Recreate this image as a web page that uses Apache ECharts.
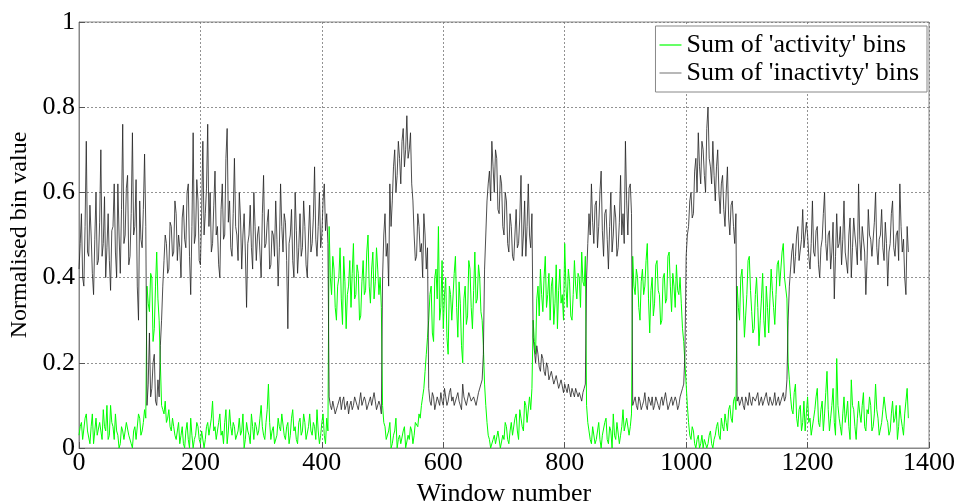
<!DOCTYPE html>
<html><head><meta charset="utf-8">
<script src="https://cdn.jsdelivr.net/npm/echarts@6/dist/echarts.min.js"></script>
<style>html,body{margin:0;padding:0;background:#fff}#c{width:962px;height:502px}</style>
</head><body><div id="c"></div>
<script>
// window step between sampled points
const windowStep = 2;
const xTicks = [0, 200, 400, 600, 800, 1000, 1200, 1400];
const yTicks = [0, 0.2, 0.4, 0.6, 0.8, 1];
const seriesNames = ["Sum of 'activity' bins", "Sum of 'inactivty' bins"];

const activity = [
0.03,0.05,0.06,0.02,0.02,0.07,0.08,0.04,0.04,0.01,0.05,0.08,0.01,0.04,0.07,0.03,0.03,0.06,0.06,0.02,
0.09,0.05,0.04,0.10,0.02,0.03,0.10,0.06,0.05,0.02,0.08,0.04,0.03,0.00,0.01,0.05,0.04,0.02,0.02,0.06,
0.06,0.03,0.03,0.01,0.00,0.04,0.05,0.02,0.02,0.08,0.07,0.03,0.04,0.06,0.09,0.07,
0.38,0.34,0.32,0.41,0.40,0.25,0.28,0.38,0.46,0.35,0.30,0.20,
0.10,0.09,0.08,0.11,0.06,0.07,0.09,0.05,0.04,0.07,0.05,0.03,0.02,0.04,0.06,0.01,0.03,0.05,0.01,0.00,
0.04,0.06,0.02,0.00,0.07,0.03,0.00,0.02,0.03,0.06,0.05,0.02,0.01,0.04,0.04,0.00,0.02,0.05,0.06,0.03,
0.03,0.07,0.11,0.04,0.05,0.02,0.02,0.06,0.08,0.03,0.04,0.01,0.06,0.09,0.01,0.04,0.09,0.05,0.03,0.06,
0.05,0.02,0.02,0.04,0.07,0.03,0.04,0.08,0.00,0.02,0.06,0.04,0.03,0.01,0.08,0.05,0.02,0.06,0.05,0.03,
0.04,0.07,0.10,0.05,0.03,0.02,0.06,0.09,0.15,0.06,0.02,0.04,0.05,0.01,0.01,0.03,0.07,0.05,0.04,0.08,
0.08,0.03,0.02,0.05,0.06,0.01,0.03,0.07,0.09,0.04,0.05,0.02,0.01,0.06,0.07,0.03,0.04,0.08,0.06,0.02,
0.02,0.05,0.08,0.04,0.03,0.06,0.05,0.02,0.09,0.04,0.01,0.03,0.06,0.08,0.03,0.01,0.07,0.04,
0.52,0.40,0.36,0.45,0.42,0.33,0.30,0.38,0.40,0.47,0.35,0.29,0.45,0.39,0.28,0.36,0.38,0.44,0.33,0.41,
0.48,0.35,0.36,0.43,0.41,0.30,0.31,0.39,0.44,0.36,0.37,0.46,0.50,0.38,0.34,0.42,0.46,0.35,0.39,0.47,
0.42,0.36,0.40,0.33,
0.10,0.06,0.05,0.02,0.02,0.04,0.06,0.00,0.01,0.03,0.04,0.07,0.00,0.02,0.03,0.01,0.01,0.04,0.05,0.00,
0.00,0.03,0.02,0.05,0.04,0.01,0.03,0.06,0.06,0.05,0.08,0.07,0.10,0.12,0.14,0.18,0.22,0.26,
0.30,0.36,0.38,0.27,0.25,0.40,0.42,0.35,0.52,0.30,0.33,0.44,0.28,0.36,0.40,0.26,0.22,0.38,0.36,0.30,
0.30,0.41,0.45,0.33,0.26,0.39,0.34,0.24,0.20,0.35,0.38,0.29,0.31,0.44,0.42,0.33,0.28,0.37,0.46,0.34,
0.35,0.43,0.40,0.32,0.30,0.24,
0.15,0.10,0.06,0.03,0.02,0.00,0.00,0.02,0.03,0.01,0.01,0.04,0.04,0.00,0.00,0.03,0.02,0.06,0.05,0.02,
0.01,0.04,0.06,0.03,0.03,0.07,0.08,0.04,0.02,0.09,0.07,0.05,0.04,0.11,0.10,0.06,0.06,0.12,0.09,0.14,
0.30,0.25,0.22,0.35,0.38,0.31,0.42,0.36,0.32,0.40,0.45,0.33,0.36,0.41,0.30,0.38,0.40,0.29,0.34,0.43,
0.28,0.37,0.42,0.34,0.36,0.30,0.48,0.38,0.33,0.42,0.39,0.31,0.30,0.36,0.44,0.38,0.35,0.41,0.40,0.33,
0.46,0.39,0.38,0.45,
0.10,0.06,0.04,0.02,0.01,0.05,0.05,0.01,0.02,0.04,0.06,0.02,0.00,0.03,0.03,0.06,0.07,0.02,0.01,0.05,
0.04,0.00,0.08,0.03,0.02,0.06,0.06,0.01,0.03,0.05,0.09,0.04,0.04,0.07,0.07,0.03,0.05,0.08,
0.45,0.38,0.36,0.42,0.40,0.33,0.30,0.39,0.42,0.36,0.38,0.44,0.48,0.35,0.27,0.37,0.40,0.31,0.34,0.43,
0.44,0.37,0.36,0.29,0.30,0.40,0.41,0.34,0.35,0.45,0.46,0.38,0.32,0.41,0.38,0.33,0.43,0.37,0.36,0.40,
0.34,0.28,0.25,0.20,
0.15,0.10,0.06,0.03,0.02,0.05,0.04,0.01,0.00,0.02,0.03,0.00,0.01,0.03,0.00,0.02,0.02,0.00,0.01,0.03,
0.04,0.01,0.00,0.02,0.03,0.05,0.06,0.03,0.02,0.07,0.05,0.04,0.08,0.06,0.04,0.09,0.10,0.07,0.06,0.11,
0.12,0.09,
0.38,0.33,0.30,0.40,0.42,0.35,0.26,0.31,0.36,0.44,0.45,0.37,0.32,0.27,0.28,0.36,0.40,0.33,0.24,0.30,
0.35,0.41,0.30,0.26,0.38,0.33,0.27,0.35,0.42,0.37,0.33,0.29,0.36,0.43,0.44,0.38,0.38,0.46,0.48,0.40,
0.40,0.35,
0.20,0.16,0.12,0.09,0.08,0.13,0.15,0.07,0.05,0.09,0.10,0.04,0.06,0.11,0.04,0.08,0.12,0.06,0.07,0.03,
0.03,0.07,0.09,0.12,0.14,0.06,0.05,0.09,0.11,0.04,0.08,0.13,0.18,0.09,0.04,0.07,0.10,0.14,0.06,0.03,
0.21,0.10,0.07,0.05,0.03,0.08,0.12,0.06,0.08,0.11,0.05,0.02,0.16,0.10,0.09,0.05,0.02,0.07,0.11,0.08,
0.06,0.10,0.13,0.05,0.04,0.09,0.08,0.12,0.10,0.04,0.05,0.08,0.15,0.09,0.07,0.03,0.03,0.06,0.09,0.12,
0.12,0.07,0.06,0.03,0.04,0.08,0.11,0.06,0.07,0.10,0.02,0.05,0.10,0.07,0.05,0.03,0.08,0.11,0.14,0.07
];

const inactivity = [
0.42,0.48,0.55,0.40,0.38,0.52,0.72,0.46,0.45,0.57,0.50,0.41,0.36,0.49,0.60,0.43,0.44,0.53,0.70,0.45,
0.48,0.59,0.40,0.47,0.55,0.44,0.37,0.51,0.52,0.62,0.46,0.40,0.62,0.50,0.41,0.56,0.76,0.48,0.50,0.61,
0.64,0.43,0.45,0.55,0.74,0.50,0.52,0.63,0.38,0.30,0.58,0.49,0.47,0.56,0.69,0.52,
0.10,0.15,0.27,0.12,0.14,0.20,0.22,0.11,0.10,0.16,0.12,0.24,
0.30,0.38,0.44,0.50,0.48,0.41,0.42,0.53,0.52,0.45,0.46,0.58,0.55,0.44,0.50,0.47,0.40,0.54,0.57,0.49,
0.47,0.60,0.62,0.45,0.36,0.52,0.74,0.48,0.50,0.63,0.58,0.44,0.43,0.55,0.72,0.50,0.55,0.61,0.76,0.52,
0.60,0.46,0.48,0.57,0.65,0.50,0.52,0.43,0.40,0.56,0.62,0.49,0.50,0.68,0.75,0.53,0.58,0.47,0.45,0.55,
0.68,0.52,0.50,0.44,0.60,0.54,0.42,0.50,0.55,0.46,0.33,0.48,0.50,0.57,0.47,0.42,0.60,0.52,0.44,0.50,
0.52,0.46,0.40,0.55,0.64,0.47,0.48,0.53,0.56,0.42,0.43,0.51,0.50,0.45,0.58,0.49,0.38,0.47,0.62,0.52,
0.46,0.55,0.53,0.44,0.28,0.48,0.50,0.56,0.44,0.40,0.60,0.51,0.41,0.47,0.55,0.45,0.47,0.58,0.52,0.43,
0.40,0.50,0.57,0.46,0.48,0.54,0.66,0.49,0.45,0.52,0.60,0.47,0.50,0.58,0.62,0.51,0.55,0.48,
0.12,0.10,0.09,0.11,0.11,0.08,0.08,0.10,0.10,0.12,0.09,0.11,0.12,0.09,0.10,0.11,0.08,0.10,0.11,0.09,
0.10,0.12,0.12,0.10,0.09,0.11,0.13,0.10,0.10,0.12,0.11,0.09,0.09,0.11,0.12,0.10,0.10,0.13,0.11,0.09,
0.09,0.11,0.10,0.08,
0.40,0.50,0.55,0.45,0.48,0.38,0.62,0.52,0.58,0.66,0.70,0.60,0.64,0.72,0.68,0.62,0.72,0.75,0.66,0.70,
0.78,0.68,0.70,0.74,0.62,0.58,0.50,0.44,0.45,0.55,0.52,0.46,0.48,0.40,0.55,0.50,0.42,0.47,
0.14,0.11,0.10,0.13,0.12,0.09,0.09,0.12,0.11,0.10,0.13,0.11,0.10,0.14,0.12,0.10,0.11,0.13,0.14,0.11,
0.12,0.10,0.10,0.12,0.13,0.11,0.11,0.09,0.15,0.12,0.12,0.10,0.10,0.13,0.13,0.11,0.11,0.12,0.12,0.10,
0.10,0.13,0.13,0.15,0.16,0.22,
0.42,0.50,0.58,0.62,0.65,0.58,0.72,0.66,0.60,0.70,0.68,0.56,0.55,0.64,0.62,0.52,0.50,0.60,0.58,0.48,
0.46,0.55,0.52,0.45,0.44,0.50,0.56,0.47,0.48,0.54,0.64,0.45,0.50,0.58,0.45,0.52,0.62,0.50,0.47,0.55,
0.26,0.23,0.20,0.24,0.22,0.19,0.18,0.22,0.21,0.18,0.17,0.20,0.19,0.16,0.16,0.18,0.18,0.15,0.15,0.17,
0.17,0.14,0.14,0.16,0.16,0.13,0.15,0.14,0.13,0.15,0.15,0.12,0.14,0.13,0.12,0.14,0.14,0.12,0.13,0.12,
0.11,0.13,0.14,0.15,
0.40,0.48,0.55,0.50,0.62,0.53,0.48,0.57,0.58,0.47,0.52,0.60,0.65,0.51,0.45,0.55,0.56,0.49,0.42,0.52,
0.60,0.46,0.50,0.57,0.54,0.45,0.47,0.53,0.64,0.50,0.55,0.48,0.72,0.58,0.50,0.61,0.62,0.55,
0.10,0.11,0.12,0.10,0.09,0.12,0.11,0.09,0.10,0.11,0.13,0.10,0.09,0.12,0.11,0.10,0.12,0.09,0.10,0.12,
0.11,0.10,0.09,0.11,0.12,0.10,0.10,0.13,0.11,0.09,0.09,0.11,0.12,0.10,0.10,0.12,0.11,0.09,0.10,0.12,
0.12,0.14,0.15,0.22,
0.45,0.50,0.52,0.58,0.60,0.54,0.55,0.65,0.68,0.60,0.74,0.66,0.62,0.72,0.70,0.64,0.60,0.75,0.80,0.68,
0.66,0.62,0.72,0.64,0.58,0.66,0.70,0.60,0.55,0.62,0.64,0.56,0.52,0.60,0.66,0.54,0.50,0.57,0.58,0.52,
0.48,0.55,
0.11,0.12,0.10,0.11,0.12,0.10,0.09,0.12,0.11,0.10,0.13,0.11,0.10,0.12,0.12,0.11,0.11,0.13,0.10,0.11,
0.12,0.10,0.11,0.12,0.13,0.11,0.10,0.12,0.12,0.10,0.11,0.13,0.10,0.11,0.12,0.10,0.11,0.12,0.13,0.11,
0.12,0.16,
0.30,0.38,0.42,0.46,0.48,0.41,0.45,0.50,0.52,0.44,0.44,0.49,0.56,0.47,0.47,0.53,0.50,0.45,0.42,0.48,
0.58,0.46,0.45,0.51,0.52,0.43,0.40,0.47,0.49,0.55,0.60,0.48,0.44,0.50,0.51,0.42,0.46,0.53,0.35,0.45,
0.55,0.47,0.48,0.52,0.43,0.49,0.58,0.46,0.46,0.41,0.50,0.54,0.40,0.47,0.54,0.50,0.47,0.43,0.62,0.49,
0.44,0.52,0.52,0.46,0.36,0.44,0.56,0.50,0.49,0.45,0.45,0.53,0.60,0.47,0.43,0.49,0.50,0.56,0.47,0.44,
0.53,0.48,0.38,0.46,0.48,0.55,0.58,0.47,0.45,0.50,0.51,0.44,0.62,0.52,0.46,0.49,0.40,0.36,0.52,0.46
];

const toPairs = arr => arr.map((v, i) => [i * windowStep, v]);
const font = "'Liberation Serif', 'Times New Roman', serif";

const chart = echarts.init(document.getElementById('c'), null, {renderer: 'canvas'});
chart.setOption({
  animation: false,
  backgroundColor: '#fff',
  grid: {left: 79, right: 33, top: 22, bottom: 54, containLabel: false, outerBoundsMode: 'none',
         show: true, borderColor: '#888', borderWidth: 1},
  legend: {
    orient: 'vertical', right: 35, top: 26,
    backgroundColor: '#fff', borderColor: '#888', borderWidth: 1,
    padding: [5, 8, 5, 4], itemGap: 0,
    icon: 'rect', itemWidth: 22, itemHeight: 1.2,
    textStyle: {fontFamily: font, fontSize: 26, lineHeight: 28, color: '#000'},
    data: seriesNames
  },
  xAxis: {
    type: 'value', min: xTicks[0], max: xTicks[xTicks.length - 1], interval: 200,
    name: 'Window number', nameLocation: 'middle', nameGap: 28,
    nameTextStyle: {fontFamily: font, fontSize: 26, color: '#000'},
    axisLine: {lineStyle: {color: '#888'}},
    axisTick: {inside: true, length: 6, lineStyle: {color: '#555'}},
    axisLabel: {fontFamily: font, fontSize: 26, color: '#000', margin: 2, formatter: v => String(v)},
    splitLine: {show: true, lineStyle: {color: '#777', type: [2, 2], width: 0.8}}
  },
  yAxis: {
    type: 'value', min: yTicks[0], max: yTicks[yTicks.length - 1], interval: 0.2,
    name: 'Normalised bin value', nameLocation: 'middle', nameGap: 44,
    nameTextStyle: {fontFamily: font, fontSize: 24, color: '#000'},
    axisLine: {show: true, lineStyle: {color: '#888'}},
    axisTick: {show: true, inside: true, length: 6, lineStyle: {color: '#555'}},
    axisLabel: {fontFamily: font, fontSize: 26, color: '#000', margin: 4, formatter: v => String(v)},
    splitLine: {show: true, lineStyle: {color: '#777', type: [2, 2], width: 0.8}}
  },
  series: [
    {name: seriesNames[0], type: 'line', data: toPairs(activity), showSymbol: false,
     lineStyle: {color: '#00ff00', width: 1}, itemStyle: {color: '#00ff00'}, z: 2},
    {name: seriesNames[1], type: 'line', data: toPairs(inactivity), showSymbol: false,
     lineStyle: {color: '#222', width: 0.8}, itemStyle: {color: '#888'}, z: 3}
  ]
});
</script></body></html>
